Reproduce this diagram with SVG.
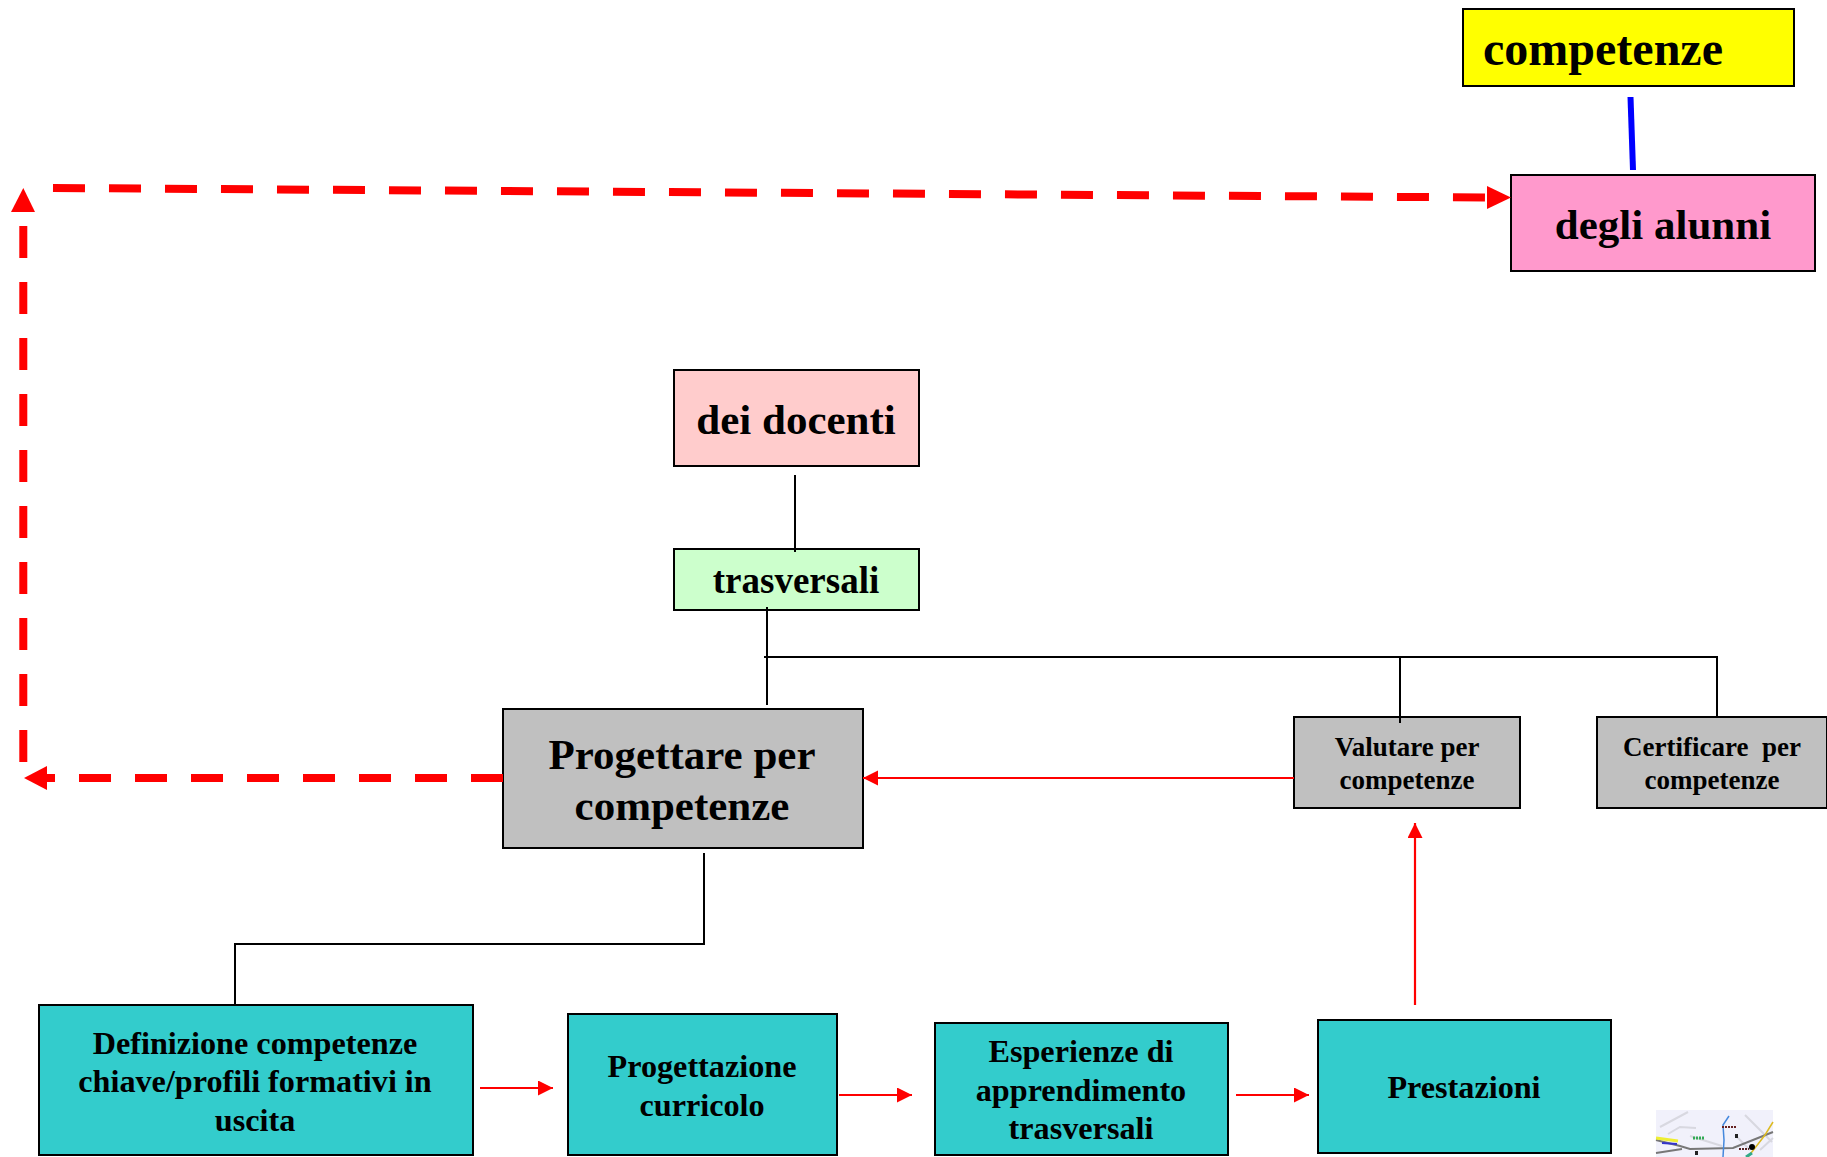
<svg xmlns="http://www.w3.org/2000/svg" width="1827" height="1157" viewBox="0 0 1827 1157">
<defs>
<marker id="rt" markerUnits="userSpaceOnUse" markerWidth="16" markerHeight="16" refX="15" refY="7.5" orient="auto"><path d="M0 0L15 7.5L0 15Z" fill="#f00"/></marker>
</defs>
<style>
text{font-family:"Liberation Serif","Times New Roman",serif;font-weight:700;fill:#000;text-anchor:middle}
.box{stroke:#000;stroke-width:2}
.k{fill:none;stroke:#000;stroke-width:2}
.r{fill:none;stroke:#f00;stroke-width:2.2;marker-end:url(#rt)}
.d{fill:none;stroke:#f00;stroke-width:8;stroke-dasharray:32 24}
</style>
<g id="n-competenze"><rect class="box" x="1463" y="9" width="331" height="77" fill="#ff0"/><text x="1603" y="65" font-size="48">competenze</text></g>
<g id="n-alunni"><rect class="box" x="1511" y="175" width="304" height="96" fill="#f9c"/><text x="1663" y="239" font-size="43">degli alunni</text></g>
<g id="n-docenti"><rect class="box" x="674" y="370" width="245" height="96" fill="#fcc"/><text x="796" y="434" font-size="43">dei docenti</text></g>
<g id="n-trasversali"><rect class="box" x="674" y="549" width="245" height="61" fill="#cfc"/><text x="796" y="593" font-size="37">trasversali</text></g>
<g id="n-progettare"><rect class="box" x="503" y="709" width="360" height="139" fill="#c0c0c0"/><text x="682" y="769" font-size="43">Progettare per</text><text x="682" y="820" font-size="43">competenze</text></g>
<g id="n-valutare"><rect class="box" x="1294" y="717" width="226" height="91" fill="#c0c0c0"/><text x="1407" y="756" font-size="27">Valutare per</text><text x="1407" y="789" font-size="27">competenze</text></g>
<g id="n-certificare"><rect class="box" x="1597" y="717" width="230" height="91" fill="#c0c0c0"/><text x="1712" y="756" font-size="27" xml:space="preserve">Certificare  per</text><text x="1712" y="789" font-size="27">competenze</text></g>
<g id="n-definizione"><rect class="box" x="39" y="1005" width="434" height="150" fill="#3cc"/><text x="255" y="1054" font-size="32.2">Definizione competenze</text><text x="255" y="1092" font-size="32.2">chiave/profili formativi in</text><text x="255" y="1131" font-size="32.2">uscita</text></g>
<g id="n-curricolo"><rect class="box" x="568" y="1014" width="269" height="141" fill="#3cc"/><text x="702" y="1077" font-size="32.2">Progettazione</text><text x="702" y="1116" font-size="32.2">curricolo</text></g>
<g id="n-esperienze"><rect class="box" x="935" y="1023" width="293" height="132" fill="#3cc"/><text x="1081" y="1062" font-size="32.2">Esperienze di</text><text x="1081" y="1101" font-size="32.2">apprendimento</text><text x="1081" y="1139" font-size="32.2">trasversali</text></g>
<g id="n-prestazioni"><rect class="box" x="1318" y="1020" width="293" height="133" fill="#3cc"/><text x="1464" y="1098" font-size="32.2">Prestazioni</text></g>
<g id="connectors">
<path d="M1630.500 97L1633 170" fill="none" stroke="#00f" stroke-width="6"/>
<path class="d" d="M53 188L1487 197.500"/><path d="M1487 186L1511 197.500L1487 209Z" fill="#f00"/>
<path class="d" d="M23.300 226V762"/><path d="M23.300 188L11 212H35Z" fill="#f00"/>
<path class="d" d="M503 778H44"/><path d="M24 778L47 766V790Z" fill="#f00"/>
<path class="k" d="M795 475V552"/>
<path class="k" d="M767 607V705"/>
<path class="k" d="M764 657H1717V717"/>
<path class="k" d="M1400 657V723"/>
<path class="k" d="M704 853V944H235V1005"/>
<path class="r" d="M1294 778H863"/>
<path class="r" d="M1415 1005V823"/>
<path class="r" d="M480 1088H553"/>
<path class="r" d="M839 1095H912"/>
<path class="r" d="M1236 1095H1309"/>
</g>
<g id="map">
<rect x="1656" y="1110" width="117" height="47" fill="#f1f1fb"/>
<path d="M1660 1127L1688 1112M1668 1134L1680 1127L1696 1128M1690 1136L1722 1146M1735 1135L1750 1150M1745 1115L1772 1142M1760 1150L1773 1138" fill="none" stroke="#d8d8e0" stroke-width="2"/>
<path d="M1656 1140L1680 1146L1690 1149L1733 1148L1773 1132M1656 1153L1682 1149" fill="none" stroke="#777" stroke-width="2"/>
<path d="M1729 1116L1723 1125L1724 1140L1723 1157" fill="none" stroke="#48d" stroke-width="1.500"/>
<path d="M1773 1122L1765 1135L1748 1157" fill="none" stroke="#db2" stroke-width="1.500"/>
<path d="M1656 1138L1678 1141" fill="none" stroke="#ee3" stroke-width="3"/>
<path d="M1662 1143L1677 1144" fill="none" stroke="#33c" stroke-width="2"/>
<path d="M1693 1138H1704" fill="none" stroke="#3a5" stroke-width="3" stroke-dasharray="2 1"/>
<path d="M1722 1127H1737" fill="none" stroke="#622" stroke-width="2" stroke-dasharray="2 1"/>
<path d="M1739 1149H1749" fill="none" stroke="#522" stroke-width="2" stroke-dasharray="2 1"/>
<circle cx="1752" cy="1147" r="3" fill="#000"/>
<rect x="1735" y="1134" width="3" height="4" fill="#222"/>
<rect x="1695" y="1151" width="3" height="4" fill="#222"/>
<path d="M1746 1157L1752 1153" fill="none" stroke="#3a8" stroke-width="3"/>
</g>
</svg>
